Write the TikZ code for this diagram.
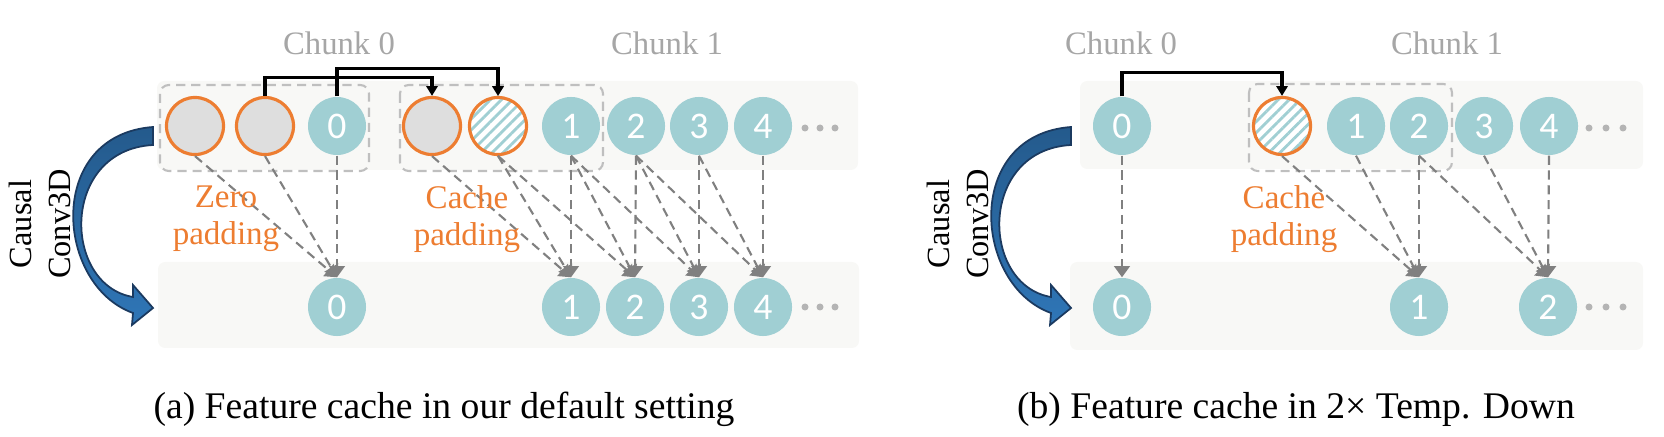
\documentclass[tikz,border=0pt]{standalone}
\usepackage{fontspec}
\setmainfont{Liberation Serif}
\newfontfamily\labelfont{Liberation Serif}
\newfontfamily\digitfont{Carlito}
\usetikzlibrary{arrows.meta,patterns.meta}
\usepackage{xcolor}
\definecolor{featteal}{HTML}{A0CFD3}
\definecolor{padorange}{HTML}{ED7D31}
\definecolor{zerogray}{HTML}{DEDEDE}
\definecolor{chunkgray}{HTML}{A6A6A6}
\definecolor{framegray}{HTML}{BFBFBF}
\definecolor{bandgray}{HTML}{F8F8F6}
\definecolor{linkgray}{HTML}{808080}
\definecolor{dotgray}{HTML}{B4B4B4}
\definecolor{convtop}{HTML}{245A8C}
\definecolor{convbottom}{HTML}{2F76B7}
\definecolor{convedge}{HTML}{1B3A60}

\begin{document}
\begin{tikzpicture}[x=0.01cm,y=-0.01cm,
  feat/.style={circle,fill=featteal,minimum size=0.58cm,inner sep=0pt,text=white,font=\digitfont\fontsize{10.7}{12}\selectfont},
  zeropad/.style={circle,fill=zerogray,draw=padorange,line width=0.9pt,minimum size=0.57cm,inner sep=0pt},
  cachepad/.style={circle,draw=padorange,line width=0.9pt,minimum size=0.57cm,inner sep=0pt,preaction={fill=white},pattern={Lines[angle=45,distance=2.2pt,line width=0.8pt]},pattern color=featteal},
  band/.style={fill=bandgray,rounded corners=2pt},
  padframe/.style={draw=framegray,line width=0.6pt,dash pattern=on 2.6pt off 1.7pt,rounded corners=2.5pt},
  link/.style={draw=linkgray,line width=0.6pt,dash pattern=on 2.6pt off 1.6pt,-{Triangle[length=3.2pt,width=4.5pt]}},
  cacheflow/.style={draw=black,line width=0.9pt,-{Triangle[length=2.8pt,width=3.2pt]}},
  chunklabel/.style={text=chunkgray,font=\labelfont\fontsize{9.3}{11}\selectfont},
  padlabel/.style={text=padorange,align=center,font=\labelfont\fontsize{9.4}{10.5}\selectfont},
  convlabel/.style={rotate=90,align=center,font=\labelfont\fontsize{9.2}{11.3}\selectfont},
  caption/.style={font=\labelfont\fontsize{10.7}{12}\selectfont},
  convarrow/.style={top color=convtop,bottom color=convbottom,draw=convedge,line width=0.5pt}]
  \useasboundingbox (0,0) rectangle (1664,437);

  % (a) default setting
  \fill[band] (157,81) rectangle (858,170);
  \fill[band] (158,262) rectangle (859,348);
  \draw[padframe] (160,85) rectangle (369,171);
  \draw[padframe] (400,85) rectangle (603,171);

  \node[chunklabel] (chunkA0) at (339,43) {Chunk 0};
  \node[chunklabel] (chunkA1) at (667,43) {Chunk 1};

  \node[zeropad] (padA1) at (195,126) {};
  \node[zeropad] (padA2) at (265,126) {};
  \node[feat] (inA0) at (337,126) {0};
  \node[zeropad] (cacheA1) at (432,126) {};
  \node[cachepad] (cacheA2) at (498,126) {};
  \node[feat] (inA1) at (571,126) {1};
  \node[feat] (inA2) at (636,126) {2};
  \node[feat] (inA3) at (699,126) {3};
  \node[feat] (inA4) at (763,126) {4};
  \fill[dotgray] (805,128) circle (3.5) (820,128) circle (3.5) (835,128) circle (3.5);

  \node[feat] (outA0) at (337,307) {0};
  \node[feat] (outA1) at (571,307) {1};
  \node[feat] (outA2) at (635,307) {2};
  \node[feat] (outA3) at (699,307) {3};
  \node[feat] (outA4) at (763,307) {4};
  \fill[dotgray] (805,307) circle (3.5) (820,307) circle (3.5) (835,307) circle (3.5);

  \draw[cacheflow] (padA2.north) -- ++(0,-18) -| (cacheA1.north);
  \draw[cacheflow] (inA0.north) -- ++(0,-28) -| (cacheA2.north);

  \draw[link] (padA1.south) -- (outA0.north);
  \draw[link] (padA2.south) -- (outA0.north);
  \draw[link] (inA0.south) -- (outA0.north);
  \draw[link] (cacheA1.south) -- (outA1.north);
  \draw[link] (cacheA2.south) -- (outA1.north);
  \draw[link] (inA1.south) -- (outA1.north);
  \draw[link] (cacheA2.south) -- (outA2.north);
  \draw[link] (inA1.south) -- (outA2.north);
  \draw[link] (inA2.south) -- (outA2.north);
  \draw[link] (inA1.south) -- (outA3.north);
  \draw[link] (inA2.south) -- (outA3.north);
  \draw[link] (inA3.south) -- (outA3.north);
  \draw[link] (inA2.south) -- (outA4.north);
  \draw[link] (inA3.south) -- (outA4.north);
  \draw[link] (inA4.south) -- (outA4.north);

  \node[padlabel] (zeroA) at (226,219) {Zero\\padding};
  \node[padlabel] (cacheA) at (467,219) {Cache\\padding};

  \filldraw[convarrow] (153,127) .. controls (45,135) and (55,285) .. (133,313) -- (132,325) -- (153,308) -- (133,285) -- (133,297) .. controls (62,285) and (60,150) .. (153,145) -- cycle;
  \node[convlabel] (convA) at (40,224) {Causal\\Conv3D};

  \node[caption] (capA) at (444,409) {(a) Feature cache in our default setting};

  % (b) 2x temporal downsampling
  \fill[band] (1080,81) rectangle (1643,169);
  \fill[band] (1070,262) rectangle (1643,350);
  \draw[padframe] (1249,84) rectangle (1452,171);

  \node[chunklabel] (chunkB0) at (1121,43) {Chunk 0};
  \node[chunklabel] (chunkB1) at (1447,43) {Chunk 1};

  \node[feat] (inB0) at (1122,126) {0};
  \node[cachepad] (cacheB) at (1282,126) {};
  \node[feat] (inB1) at (1356,126) {1};
  \node[feat] (inB2) at (1419,126) {2};
  \node[feat] (inB3) at (1484,126) {3};
  \node[feat] (inB4) at (1549,126) {4};
  \fill[dotgray] (1589,128) circle (3.5) (1606,128) circle (3.5) (1623,128) circle (3.5);

  \node[feat] (outB0) at (1122,307) {0};
  \node[feat] (outB1) at (1419,307) {1};
  \node[feat] (outB2) at (1548,307) {2};
  \fill[dotgray] (1589,307) circle (3.5) (1606,307) circle (3.5) (1623,307) circle (3.5);

  \draw[cacheflow] (inB0.north) -- ++(0,-24) -| (cacheB.north);

  \draw[link] (inB0.south) -- (outB0.north);
  \draw[link] (cacheB.south) -- (outB1.north);
  \draw[link] (inB1.south) -- (outB1.north);
  \draw[link] (inB2.south) -- (outB1.north);
  \draw[link] (inB2.south) -- (outB2.north);
  \draw[link] (inB3.south) -- (outB2.north);
  \draw[link] (inB4.south) -- (outB2.north);

  \node[padlabel] (cacheBl) at (1284,219) {Cache\\padding};

  \filldraw[convarrow,shift={(918,0)}] (153,127) .. controls (45,135) and (55,285) .. (133,313) -- (132,325) -- (153,308) -- (133,285) -- (133,297) .. controls (62,285) and (60,150) .. (153,145) -- cycle;
  \node[convlabel] (convB) at (958,224) {Causal\\Conv3D};

  \node[caption] (capB) at (1296,409) {(b) Feature cache in 2× Temp. Down};
\end{tikzpicture}
\end{document}
